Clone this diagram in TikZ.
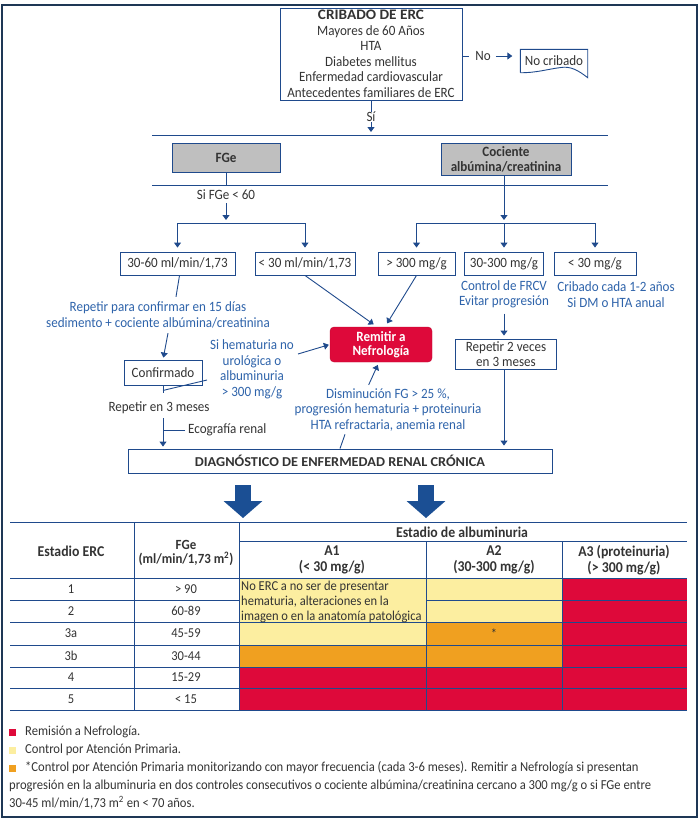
\documentclass[tikz,border=0pt]{standalone}
\usepackage{fontspec}
\setmainfont{Carlito}[FakeStretch=0.92]
\newfontfamily\capsfont{Carlito}[FakeStretch=1.05]
\usetikzlibrary{arrows.meta}

\definecolor{lineblue}{HTML}{1F4A8C}
\definecolor{textblue}{HTML}{2E63AA}
\definecolor{darktext}{HTML}{333333}
\definecolor{boxgray}{HTML}{BFBFBF}
\definecolor{remred}{HTML}{DE093A}
\definecolor{ctrlyellow}{HTML}{FCEEA0}
\definecolor{ctrlorange}{HTML}{F0A020}
\definecolor{framecol}{HTML}{1E3755}
\definecolor{bigblue}{HTML}{1B4F94}

\tikzset{
  txt/.style={font=\fontsize{14.2}{15.5}\selectfont, text=darktext, align=center, inner sep=0pt},
  bluetxt/.style={txt, text=textblue},
  flowbox/.style={txt, draw=lineblue, line width=0.9pt},
  graybox/.style={flowbox, fill=boxgray, font=\fontsize{14.2}{15}\selectfont\bfseries},
  remitbox/.style={txt, fill=remred, draw=remred!85!black, rounded corners=4pt, text=white,
    font=\fontsize{14.2}{14.5}\selectfont\bfseries},
  conn/.style={draw=lineblue, line width=0.9pt},
  arr/.style={conn, -{Triangle[width=7pt,length=5pt]}, shorten >=3pt},
  bigarr/.style={draw=bigblue, line width=16pt, -{Triangle[width=38pt,length=17pt]}},
  tline/.style={draw=lineblue, line width=0.7pt},
  celltxt/.style={font=\fontsize{13.6}{15}\selectfont, text=darktext, inner sep=0pt},
  headtxt/.style={celltxt, align=center, font=\fontsize{15}{16}\selectfont\bfseries},
  legtxt/.style={font=\fontsize{13.7}{14}\selectfont, text=darktext, inner sep=0pt, anchor=west}
}

\begin{document}
\begin{tikzpicture}[x=1pt, y=-1pt]
    \useasboundingbox (0,0) rectangle (700,820);
    \draw[framecol, line width=1.5pt] (2,5) rectangle (697,817);

    % Nodes
    \node at (371,54) (cribado) [flowbox, minimum width=182pt, minimum height=92pt]
      {{\capsfont\fontsize{14.5}{15.5}\selectfont\bfseries CRIBADO DE ERC}\\Mayores de 60 Años\\HTA\\Diabetes mellitus\\Enfermedad cardiovascular\\Antecedentes familiares de ERC};
    \node at (483,56) (no) [txt] {No};
    \node at (554,61) (nocribado) [txt, minimum width=67pt, minimum height=23pt] {No cribado};
    \node at (371,117) (si) [txt] {Sí};

    \coordinate (bar1w) at (152,135);
    \coordinate (bar1e) at (608,135);
    \coordinate (bar2w) at (152,185);
    \coordinate (bar2e) at (608,185);
    \coordinate (fork1) at (226,223);
    \coordinate (fork2) at (504,223);

    \node at (226,157.5) (fge) [graybox, minimum width=108pt, minimum height=29pt] {FGe};
    \node at (506,159) (cociente) [graybox, minimum width=130pt, minimum height=32pt] {Cociente\\albúmina/creatinina};
    \node at (226,195) (fgelt) [txt] {Si FGe < 60};

    \node at (177.5,263.5) (b3060) [flowbox, minimum width=115pt, minimum height=23pt] {30-60 ml/min/1,73};
    \node at (305,263.5) (b30) [flowbox, minimum width=100pt, minimum height=23pt] {< 30 ml/min/1,73};
    \node at (416.5,263.5) (b300) [flowbox, minimum width=77pt, minimum height=23pt] {> 300 mg/g};
    \node at (504,263.5) (b30300) [flowbox, minimum width=79pt, minimum height=23pt] {30-300 mg/g};
    \node at (595,263.5) (b30mg) [flowbox, minimum width=82pt, minimum height=23pt] {< 30 mg/g};

    \node at (504,294.5) (frcv) [bluetxt] {Control de FRCV\\Evitar progresión};
    \node at (616,294.5) (cribcada) [bluetxt] {Cribado cada 1-2 años\\Si DM o HTA anual};
    \node at (506,354) (rep2) [flowbox, minimum width=101pt, minimum height=30pt] {Repetir 2 veces\\en 3 meses};

    \node at (381,344.5) (remitir) [remitbox, minimum width=102pt, minimum height=35pt] {Remitir a\\Nefrología};

    \node at (158,315) (repconf) [bluetxt] {Repetir para confirmar en 15 días\\sedimento + cociente albúmina/creatinina};
    \node at (163,372.5) (confirmado) [flowbox, minimum width=78pt, minimum height=25pt] {Confirmado};
    \node at (252,369.5) (hemat) [bluetxt] {Si hematuria no\\urológica o\\albuminuria\\> 300 mg/g};
    \coordinate (hematout) at (298,354);
    \coordinate (hematin) at (207,380);
    \node at (159,408) (rep3) [txt] {Repetir en 3 meses};
    \node at (188,430) (eco) [txt, anchor=west] {Ecografía renal};

    \node at (388,410) (dism) [bluetxt] {Disminución FG > 25 \%,\\progresión hematuria + proteinuria\\HTA refractaria, anemia renal};
    \node at (340,461) (diag) [flowbox, font=\capsfont\fontsize{13.6}{15.5}\selectfont\bfseries, minimum width=424pt, minimum height=24pt]
      {DIAGNÓSTICO DE ENFERMEDAD RENAL CRÓNICA};

    % Document shape
    \draw[conn] (nocribado.south west) -- (nocribado.north west) -- (nocribado.north east)
      -- ([yshift=-5pt]nocribado.south east) .. controls (578,70) and (570,66) .. (561,67.5)
      .. controls (548,69) and (536,73) .. (nocribado.south west);

    % Arrows
    \draw[conn, shorten >=6pt] (cribado.east |- no) -- (no.west);
    \draw[arr, shorten <=5pt, shorten >=8pt] (no.east) -- (nocribado.west |- no);
    \draw[conn] (cribado.south) -- (si.north);
    \draw[arr] (si.south) -- (si |- bar1w);
    \draw[conn] (bar1w) -- (bar1e);
    \draw[conn] (bar2w) -- (bar2e);
    \draw[conn] (fge.south) -- (fge.south |- bar2w);
    \draw[arr, shorten <=3pt] (fgelt.south) -- (fgelt.south |- fork1);
    \draw[conn] (b3060 |- fork1) -- (b30 |- fork1);
    \foreach \n in {b3060,b30} \draw[arr, shorten >=4pt] (\n |- fork1) -- (\n.north);
    \draw[arr] (cociente.south -| fork2) -- (fork2);
    \draw[conn] (b300 |- fork2) -- (b30mg |- fork2);
    \foreach \n in {b300,b30300,b30mg} \draw[arr, shorten >=4pt] (\n |- fork2) -- (\n.north);

    \draw[arr, shorten <=5pt] (frcv.south) -- (frcv.south |- rep2.north);
    \draw[arr] (rep2.south -| frcv) -- (frcv |- diag.north);
    \draw[arr, shorten >=4pt] (b30.south) -- ([xshift=-4pt]remitir.north);
    \draw[arr, shorten >=4pt] (b300.south) -- ([xshift=4pt]remitir.north);
    \draw[arr, shorten >=1pt] (hematout) -- (remitir.west);

    \draw[conn] ([xshift=2pt]b3060.south) -- ([xshift=18pt,yshift=5pt]repconf.north);
    \draw[arr, shorten >=2pt] ([xshift=10pt,yshift=-5pt]repconf.south) -- (confirmado.north);
    \draw[conn] (confirmado.south) -- ++(0,8);
    \draw[conn] ([yshift=-5pt]confirmado.south) -- (hematin);
    \draw[arr, shorten <=4pt, shorten >=2pt] (confirmado.south |- rep3.south) -- (confirmado.south |- diag.north);
    \draw[conn, shorten <=3pt] (eco.west) -- (confirmado.south |- eco.west);

    \draw[arr, shorten <=4pt] ([xshift=-21pt]dism.north) -- ([xshift=-2pt]remitir.south);
    \draw[conn, shorten >=3pt] (diag.north) -- ([xshift=-42pt]dism.south);

    \foreach \x in {243,426} \draw[bigarr] (\x,485) -- (\x,518);

    % Table
    \fill[ctrlyellow] (239,578) rectangle (562,645);
    \fill[ctrlorange] (239,645) rectangle (562,667);
    \fill[ctrlorange] (426,622) rectangle (562,645);
    \fill[remred] (562,578) rectangle (687,710);
    \fill[remred] (239,667) rectangle (562,710);

    \draw[tline] (10,522) -- (687,522);
    \draw[tline] (239,541) -- (687,541);
    \draw[tline] (10,578) -- (687,578);
    \draw[tline] (10,600) -- (239,600) (426,600) -- (687,600);
    \foreach \y in {622,645,667,688,710} \draw[tline] (10,\y) -- (687,\y);
    \foreach \x in {134,239} \draw[tline] (\x,522) -- (\x,710);
    \foreach \x in {426,562} \draw[tline] (\x,541) -- (\x,710);

    \node at (71,551) (hestadio) [headtxt] {Estadio ERC};
    \node at (186,553) (hfge) [headtxt, font=\fontsize{14}{14.5}\selectfont\bfseries] {FGe\\(ml/min/1,73 m\textsuperscript{2})};
    \node at (462,532) (halb) [headtxt] {Estadio de albuminuria};
    \node at (332,560) (ha1) [headtxt] {A1\\(< 30 mg/g)};
    \node at (494,560) (ha2) [headtxt] {A2\\(30-300 mg/g)};
    \node at (624,560) (ha3) [headtxt] {A3 (proteinuria)\\(> 300 mg/g)};

    \foreach \st/\fg/\y in {1/{> 90}/589, 2/60-89/611, 3a/45-59/633.5, 3b/30-44/656, 4/15-29/677.5, 5/{< 15}/699} {
      \node at (71,\y) (st\st) [celltxt] {\st};
      \node at (186,\y) (fg\st) [celltxt] {\fg};
    }
    \node at (241,602) (a1note) [celltxt, anchor=west, align=left]
      {No ERC a no ser de presentar\\hematuria, alteraciones en la\\imagen o en la anatomía patológica};
    \node at (494,633.5) (star) [celltxt] {*};

    % Labels
    \foreach \c/\y in {remred/732, ctrlyellow/750, ctrlorange/768} \fill[\c] (9,\y-3.5) rectangle (16,\y+3.5);
    \node at (25,732) (legred) [legtxt] {Remisión a Nefrología.};
    \node at (25,750) (legyellow) [legtxt] {Control por Atención Primaria.};
    \node at (25,768) (legorange) [legtxt] {*Control por Atención Primaria monitorizando con mayor frecuencia (cada 3-6 meses). Remitir a Nefrología si presentan};
    \node at (9,786) (legorange2) [legtxt] {progresión en la albuminuria en dos controles consecutivos o cociente albúmina/creatinina cercano a 300 mg/g o si FGe entre};
    \node at (9,803) (legorange3) [legtxt] {30-45 ml/min/1,73 m\textsuperscript{2} en < 70 años.};
\end{tikzpicture}
\end{document}
